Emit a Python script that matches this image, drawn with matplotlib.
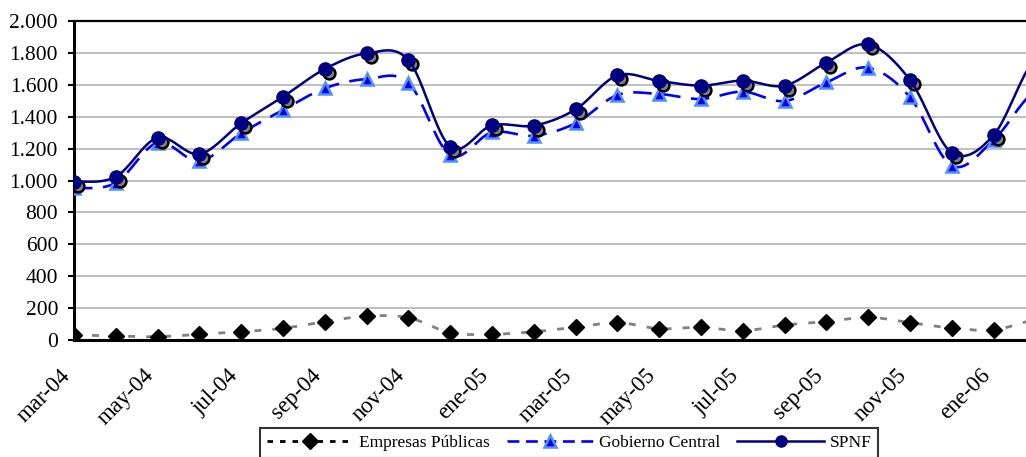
import matplotlib.pyplot as plt
import matplotlib.transforms as mtransforms
import numpy as np
from matplotlib.lines import Line2D

months = ["mar-04", "abr-04", "may-04", "jun-04", "jul-04", "ago-04", "sep-04",
          "oct-04", "nov-04", "dic-04", "ene-05", "feb-05", "mar-05", "abr-05",
          "may-05", "jun-05", "jul-05", "ago-05", "sep-05", "oct-05", "nov-05",
          "dic-05", "ene-06", "feb-06"]

empresas = [31, 25, 21, 36, 52, 73, 115, 150, 140, 46, 36, 52, 80, 109, 71,
            80, 58, 94, 115, 142, 109, 75, 63, 125]
gobierno = [951, 986, 1237, 1122, 1296, 1442, 1578, 1636, 1613, 1160, 1302, 1281,
            1359, 1536, 1542, 1511, 1557, 1498, 1615, 1707, 1522, 1093, 1254, 1560]
spnf = [992, 1024, 1268, 1166, 1359, 1525, 1699, 1797, 1755, 1212, 1346, 1344,
        1446, 1659, 1624, 1595, 1626, 1595, 1739, 1853, 1630, 1174, 1285, 1760]

plt.rcParams['font.family'] = ['Liberation Serif', 'DejaVu Serif']


def smooth(y, n=20):
    # bezier smoothing like the spreadsheet "smoothed line"
    y = np.asarray(y, dtype=float)
    x = np.arange(len(y), dtype=float)
    xs, ys = [], []
    for i in range(len(y) - 1):
        y0 = y[i - 1] if i > 0 else y[i]
        y3 = y[i + 2] if i + 2 < len(y) else y[i + 1]
        c1 = y[i] + (y[i + 1] - y0) / 6
        c2 = y[i + 1] - (y3 - y[i]) / 6
        t = np.linspace(0, 1, n, endpoint=False)
        ys.extend((1 - t) ** 3 * y[i] + 3 * (1 - t) ** 2 * t * c1
                  + 3 * (1 - t) * t ** 2 * c2 + t ** 3 * y[i + 1])
        xs.extend(x[i] + t)
    xs.append(x[-1])
    ys.append(y[-1])
    return np.array(xs), np.array(ys)


fig = plt.figure(figsize=(10.26, 4.57), dpi=100)
ax = fig.add_axes([74 / 1026, 117 / 457, 1 - 74 / 1026, 319 / 457])

idx = np.arange(len(months))

# Empresas Publicas
sx, sy = smooth(empresas)
ax.plot(sx, sy, color='#808080', lw=2, dashes=(2.5, 4), zorder=3)
ax.plot(idx, empresas, ls='none', marker='D', ms=8, color='black', zorder=4)

# Gobierno Central
sx, sy = smooth(gobierno)
ax.plot(sx, sy, color='#0000FF', lw=1.9, dashes=(7, 4), zorder=3)
ax.plot(idx, gobierno, ls='none', marker='^', ms=9, mfc='#0000E0',
        mec='#4F8FFF', mew=1.8, zorder=4)

# SPNF with marker shadow
shadow = ax.transData + mtransforms.ScaledTranslation(4 / 100, -4 / 100, fig.dpi_scale_trans)
ax.plot(idx, spnf, ls='none', marker='o', ms=8.5, mfc='#808080', mec='black',
        mew=1.8, transform=shadow, zorder=4)
sx, sy = smooth(spnf)
ax.plot(sx, sy, color='#000080', lw=1.8, zorder=5)
ax.plot(idx, spnf, ls='none', marker='o', ms=9.5, color='#000080', zorder=6)

ax.set_xlim(0, (1026 - 74) / 41.8)
ax.set_ylim(0, 2000)
ax.set_yticks(np.arange(0, 2001, 200))
ax.set_yticklabels([f"{v:,}".replace(",", ".") for v in range(0, 2001, 200)])
ax.set_xticks(idx[::2])
ax.set_xticklabels(months[::2], rotation=45, ha='right', rotation_mode='anchor')
ax.tick_params(axis='y', direction='out', length=4.5, width=1.5, labelsize=15.5, pad=7)
ax.tick_params(axis='x', length=0, labelsize=16.5, pad=18)
shift = mtransforms.ScaledTranslation(-14 / 100, 0, fig.dpi_scale_trans)
for lab in ax.get_xticklabels():
    lab.set_transform(lab.get_transform() + shift)

ax.grid(axis='y', color='#C0C0C0', lw=1.5)
ax.set_axisbelow(True)
for side in ['left', 'bottom']:
    ax.spines[side].set_linewidth(2.2)
ax.spines['top'].set_linewidth(1.6)
ax.spines['right'].set_visible(False)

handles = [
    Line2D([], [], color='black', lw=2, dashes=(2, 2.5), marker='D', ms=8),
    Line2D([], [], color='#0000FF', lw=1.9, dashes=(4.5, 2.5), marker='^', ms=9,
           mfc='#0000E0', mec='#4F8FFF', mew=1.8),
    Line2D([], [], color='#000080', lw=1.8, marker='o', ms=8),
]
leg = fig.legend(handles, ["Empresas Públicas", "Gobierno Central", "SPNF"],
                 loc='upper center', bbox_to_anchor=(569 / 1026, 29 / 457), ncol=3,
                 fontsize=12.5, frameon=True, fancybox=False, edgecolor='black',
                 handlelength=5, columnspacing=1.0, handletextpad=0.3,
                 borderpad=0.4, borderaxespad=0)
leg.get_frame().set_linewidth(1.5)

fig.savefig("out.png", dpi=100)
